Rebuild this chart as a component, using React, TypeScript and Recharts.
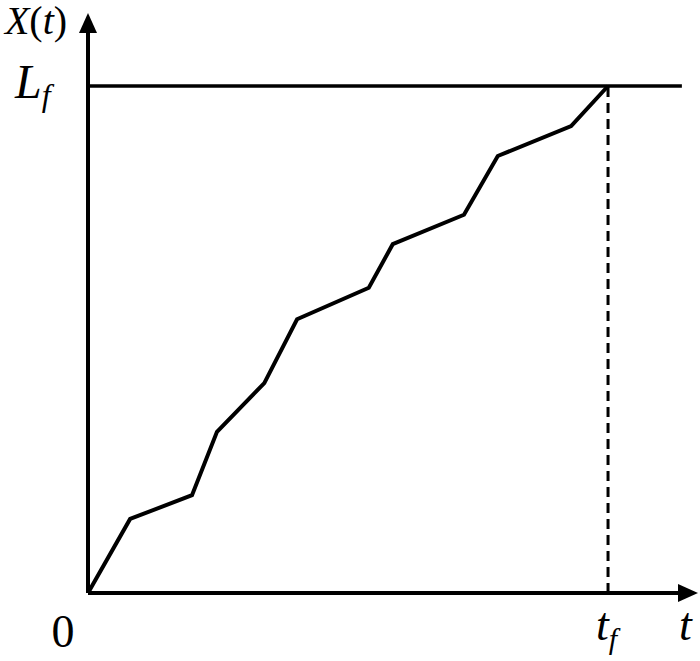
import React from 'react';
import { LineChart, Line, XAxis, YAxis, ReferenceLine, ReferenceDot } from 'recharts';

// path of X(t), t scaled so that t_f = 1, X scaled so that L_f = 1
const tValues = [0, 0.081, 0.2, 0.248, 0.339, 0.402, 0.54, 0.586, 0.723, 0.788, 0.929, 1];
const xValues = [0, 0.146, 0.193, 0.318, 0.414, 0.54, 0.602, 0.688, 0.746, 0.862, 0.921, 1];

const tf = 1;
const Lf = 1;
const tMax = 1.173;
const xMax = 1.144;
const lfLineEnd = 1.142;

const data = tValues.map((t, i) => ({ t, x: xValues[i] }));

const FONT = '"Liberation Serif", "Times New Roman", serif';

const ArrowUp = (p: any) => (
  <polygon points={`${p.cx},${p.cy} ${p.cx - 9},${p.cy + 20} ${p.cx + 9},${p.cy + 20}`} fill="#000" />
);
const ArrowRight = (p: any) => (
  <polygon points={`${p.cx},${p.cy} ${p.cx - 20},${p.cy - 9} ${p.cx - 20},${p.cy + 9}`} fill="#000" />
);

const YLabel = (p: any) => (
  <text x={p.cx - 52} y={p.cy + 21} textAnchor="middle" fontFamily={FONT} fontSize={40}>
    <tspan fontStyle="italic">X</tspan>(<tspan fontStyle="italic">t</tspan>)
  </text>
);
const LfLabel = (p: any) => (
  <text x={p.cx - 73} y={p.cy + 12} fontFamily={FONT} fontSize={48} fontStyle="italic">
    L<tspan fontSize={32} dy={8}>f</tspan>
  </text>
);
const ZeroLabel = (p: any) => (
  <text x={p.cx - 25} y={p.cy + 54} textAnchor="middle" fontFamily={FONT} fontSize={46}>0</text>
);
const TfLabel = (p: any) => (
  <text x={p.cx - 12} y={p.cy + 47} fontFamily={FONT} fontSize={46} fontStyle="italic">
    t<tspan fontSize={30} dy={9}>f</tspan>
  </text>
);
const TLabel = (p: any) => (
  <text x={p.cx - 19} y={p.cy + 47} fontFamily={FONT} fontSize={46} fontStyle="italic">t</text>
);

export default function App() {
  return (
    <div style={{ position: 'absolute', left: 0, top: 0, width: 700, height: 661, background: '#fff' }}>
      <LineChart width={700} height={661} data={data} margin={{ top: 13, right: 2, left: 88, bottom: 68 }}>
        <XAxis dataKey="t" type="number" domain={[0, tMax]} hide />
        <YAxis type="number" domain={[0, xMax]} hide />

        {/* axes */}
        <ReferenceLine segment={[{ x: 0, y: 0 }, { x: tMax * 0.99, y: 0 }]} stroke="#000" strokeWidth={4} />
        <ReferenceLine segment={[{ x: 0, y: 0 }, { x: 0, y: xMax * 0.99 }]} stroke="#000" strokeWidth={4} />
        <ReferenceDot x={0} y={xMax} r={0} shape={ArrowUp} />
        <ReferenceDot x={tMax} y={0} r={0} shape={ArrowRight} />

        {/* L_f level and t_f marker */}
        <ReferenceLine segment={[{ x: 0, y: Lf }, { x: lfLineEnd, y: Lf }]} stroke="#000" strokeWidth={3.5} />
        <ReferenceLine segment={[{ x: tf, y: 0 }, { x: tf, y: Lf }]} stroke="#000" strokeWidth={3} strokeDasharray="10 6" />

        <Line type="linear" dataKey="x" stroke="#000" strokeWidth={4} dot={false} isAnimationActive={false} />

        {/* labels */}
        <ReferenceDot x={0} y={xMax} r={0} shape={YLabel} />
        <ReferenceDot x={0} y={Lf} r={0} shape={LfLabel} />
        <ReferenceDot x={0} y={0} r={0} shape={ZeroLabel} />
        <ReferenceDot x={tf} y={0} r={0} shape={TfLabel} />
        <ReferenceDot x={tMax} y={0} r={0} shape={TLabel} />
      </LineChart>
    </div>
  );
}
